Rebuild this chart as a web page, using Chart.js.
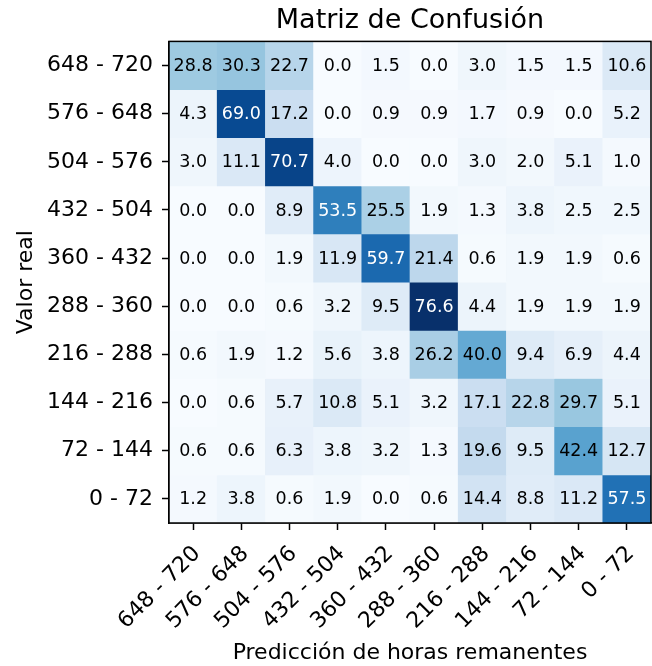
<!DOCTYPE html>
<html>
<head>
<meta charset="utf-8">
<script src="https://cdn.jsdelivr.net/npm/chart.js@4/dist/chart.umd.min.js"></script>
<style>
  html, body { margin: 0; padding: 0; background: #ffffff; }
  #wrap { width: 652px; height: 666px; }
</style>
</head>
<body>
<div id="wrap"><canvas id="c" width="652" height="666"></canvas></div>
<script>
// Real class (rows, top to bottom) and predicted class (columns, left to right)
const rowLabels = ['648 - 720', '576 - 648', '504 - 576', '432 - 504', '360 - 432',
                   '288 - 360', '216 - 288', '144 - 216', '72 - 144', '0 - 72'];
const colLabels = ['648 - 720', '576 - 648', '504 - 576', '432 - 504', '360 - 432',
                   '288 - 360', '216 - 288', '144 - 216', '72 - 144', '0 - 72'];

// Percentages per real class row
const row648_720 = [28.8, 30.3, 22.7, 0.0, 1.5, 0.0, 3.0, 1.5, 1.5, 10.6];
const row576_648 = [4.3, 69.0, 17.2, 0.0, 0.9, 0.9, 1.7, 0.9, 0.0, 5.2];
const row504_576 = [3.0, 11.1, 70.7, 4.0, 0.0, 0.0, 3.0, 2.0, 5.1, 1.0];
const row432_504 = [0.0, 0.0, 8.9, 53.5, 25.5, 1.9, 1.3, 3.8, 2.5, 2.5];
const row360_432 = [0.0, 0.0, 1.9, 11.9, 59.7, 21.4, 0.6, 1.9, 1.9, 0.6];
const row288_360 = [0.0, 0.0, 0.6, 3.2, 9.5, 76.6, 4.4, 1.9, 1.9, 1.9];
const row216_288 = [0.6, 1.9, 1.2, 5.6, 3.8, 26.2, 40.0, 9.4, 6.9, 4.4];
const row144_216 = [0.0, 0.6, 5.7, 10.8, 5.1, 3.2, 17.1, 22.8, 29.7, 5.1];
const row72_144  = [0.6, 0.6, 6.3, 3.8, 3.2, 1.3, 19.6, 9.5, 42.4, 12.7];
const row0_72    = [1.2, 3.8, 0.6, 1.9, 0.0, 0.6, 14.4, 8.8, 11.2, 57.5];

const matrix = [row648_720, row576_648, row504_576, row432_504, row360_432,
                row288_360, row216_288, row144_216, row72_144, row0_72];

// matplotlib "Blues" colormap stops
const bluesStops = ['#f7fbff', '#deebf7', '#c6dbef', '#9ecae1', '#6baed6',
                    '#4292c6', '#2171b5', '#08519c', '#08306b'];
function hexToRgb(h) {
  return [parseInt(h.slice(1, 3), 16), parseInt(h.slice(3, 5), 16), parseInt(h.slice(5, 7), 16)];
}
const stopRgb = bluesStops.map(hexToRgb);
const allVals = matrix.flat();
const vmin = Math.min(...allVals);
const vmax = Math.max(...allVals);
function blues(v) {
  let t = (v - vmin) / (vmax - vmin);
  t = Math.max(0, Math.min(1, t));
  const pos = t * (stopRgb.length - 1);
  const i = Math.min(Math.floor(pos), stopRgb.length - 2);
  const f = pos - i;
  const a = stopRgb[i], b = stopRgb[i + 1];
  const c = a.map((x, k) => Math.round(x + (b[k] - x) * f));
  return 'rgb(' + c[0] + ',' + c[1] + ',' + c[2] + ')';
}
const textThreshold = 46;

const datasets = matrix.map((row, r) => ({
  label: rowLabels[r],
  data: row.map(() => [r - 0.5, r + 0.5]),
  values: row,
  backgroundColor: row.map(v => blues(v)),
  borderWidth: 0,
  grouped: false,
  barPercentage: 1,
  categoryPercentage: 1
}));

const FONT = "'DejaVu Sans', sans-serif";

const cellText = {
  id: 'cellText',
  afterDatasetsDraw(chart) {
    const ctx = chart.ctx;
    ctx.save();
    ctx.font = '17.5px ' + FONT;
    ctx.textAlign = 'center';
    ctx.textBaseline = 'middle';
    chart.data.datasets.forEach((ds, di) => {
      const meta = chart.getDatasetMeta(di);
      meta.data.forEach((el, i) => {
        const v = ds.values[i];
        const p = el.getCenterPoint();
        ctx.fillStyle = v > textThreshold ? '#ffffff' : '#000000';
        ctx.fillText(v.toFixed(1), p.x, p.y + 1);
      });
    });
    ctx.restore();
  }
};

const frame = {
  id: 'frame',
  afterDraw(chart) {
    const a = chart.chartArea;
    const ctx = chart.ctx;
    ctx.save();
    ctx.strokeStyle = '#000000';
    ctx.lineWidth = 1.5;
    ctx.strokeRect(a.left, a.top, a.right - a.left, a.bottom - a.top);
    ctx.restore();
  }
};

new Chart(document.getElementById('c'), {
  type: 'bar',
  data: { labels: colLabels, datasets: datasets },
  options: {
    responsive: false,
    animation: false,
    layout: { padding: { left: 0, right: 1, top: 0, bottom: 0 } },
    plugins: {
      legend: { display: false },
      tooltip: { enabled: false },
      title: {
        display: true,
        fullSize: false,
        text: 'Matriz de Confusión',
        color: '#000000',
        font: { family: FONT, size: 27, weight: 'normal' },
        padding: { top: 5, bottom: 4 }
      }
    },
    scales: {
      x: {
        type: 'category',
        offset: true,
        afterFit: (s) => { s.height = 143; s.paddingLeft = 0; s.paddingRight = 0; },
        grid: { display: true, drawOnChartArea: false, offset: false, tickLength: 7, tickWidth: 1.5, tickColor: '#000000' },
        border: { display: true, color: '#000000', width: 1.5 },
        ticks: {
          color: '#000000',
          font: { family: FONT, size: 22 },
          maxRotation: 45, minRotation: 45,
          autoSkip: false,
          padding: 11,
          labelOffset: 4
        },
        title: {
          display: true,
          text: 'Predicción de horas remanentes',
          color: '#000000',
          font: { family: FONT, size: 22 },
          padding: { top: 0, bottom: 0 }
        }
      },
      y: {
        type: 'linear',
        reverse: true,
        min: -0.5,
        max: 9.5,
        afterBuildTicks: (axis) => { axis.ticks = rowLabels.map((_, i) => ({ value: i })); },
        afterFit: (s) => { s.width = 169; s.paddingTop = 0; s.paddingBottom = 0; },
        grid: { display: true, drawOnChartArea: false, tickLength: 7, tickWidth: 1.5, tickColor: '#000000' },
        border: { display: true, color: '#000000', width: 1.5 },
        ticks: {
          color: '#000000',
          font: { family: FONT, size: 22 },
          padding: 9,
          autoSkip: false,
          callback: (v) => rowLabels[v] !== undefined ? rowLabels[v] : ''
        },
        title: {
          display: true,
          text: 'Valor real',
          color: '#000000',
          font: { family: FONT, size: 22 },
          padding: { top: 13, bottom: 6 }
        }
      }
    }
  },
  plugins: [cellText, frame]
});
</script>
</body>
</html>
